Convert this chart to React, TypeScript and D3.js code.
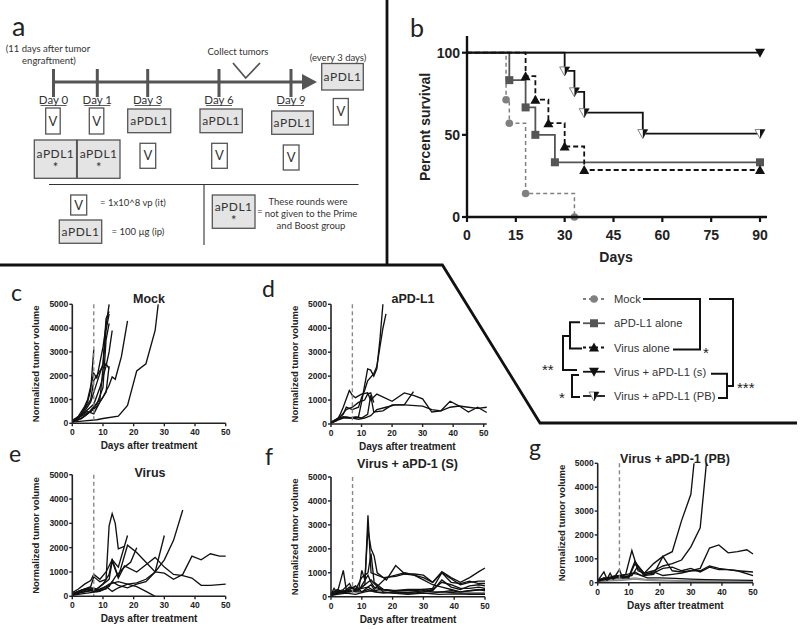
import React from 'react';
import * as d3 from 'd3';

// ---- Panel b: Kaplan-Meier survival (day, percent) ----
const mockSurv = [[0, 100], [12, 71.4], [13, 57.1], [18, 14.3], [33, 0]];
const aPDL1Surv = [[0, 100], [13, 83.3], [18, 66.7], [21, 50], [27, 33.3], [90, 33.3]];
const virusSurv = [[0, 100], [18, 85.7], [21, 71.4], [25, 57.1], [30, 42.9], [36, 28.6], [90, 28.6]];
const comboSSurv = [[0, 100], [90, 100]];
const comboPBSurv = [[0, 100], [30, 88.9], [33, 76.2], [36, 63.5], [54, 50.8], [90, 50.8]];
const survXTicks = [0, 15, 30, 45, 60, 75, 90];
const survYTicks = [0, 50, 100];

const legendLabels = ['Mock', 'aPD-L1 alone', 'Virus alone', 'Virus + aPD-L1 (s)', 'Virus + aPD-L1 (PB)'];

// ---- Panels c-g: tumour growth curves (day, normalized volume) ----
const mockCurves = [
  [[0, 80], [1, 150], [3, 400], [5, 900], [6, 1400], [7, 3100]],
  [[0, 100], [2, 300], [4, 700], [5, 1000], [7, 2100], [8, 1900], [10, 3200], [12, 5000]],
  [[0, 50], [2, 200], [4, 500], [6, 900], [8, 1700], [10, 2500], [11, 4400], [12, 4700]],
  [[0, 100], [2, 250], [4, 450], [7, 800], [9, 1500], [11, 2400], [12, 3000], [13, 3900]],
  [[0, 60], [3, 200], [5, 400], [7, 700], [9, 1000], [10, 2300], [11, 2500], [12, 2300]],
  [[0, 100], [3, 300], [6, 500], [8, 700], [10, 1100], [12, 1600], [13, 1950], [14, 1850], [16, 2800], [18, 4300]],
  [[0, 50], [4, 100], [8, 150], [10, 200], [15, 300], [18, 750], [21, 2200], [24, 2500], [27, 3900], [28, 5000]],
  [[0, 80], [2, 200], [4, 600], [6, 1000], [7, 1800], [8, 2000], [10, 2400], [11, 3900], [12, 4600]],
  [[0, 120], [3, 350], [5, 500], [7, 400], [9, 900], [11, 1300], [12, 2400]],
  [[0, 70], [2, 150], [4, 300], [6, 500], [8, 800], [10, 1500], [11, 3500], [12, 4200]],
];

const aPDL1Curves = [
  [[0, 50], [1, 100], [2, 200], [3, 250], [5, 300], [7, 250], [9, 300], [10, 900], [12, 2300], [13, 2250], [14, 2000], [15, 2300], [16, 3500], [17, 5000]],
  [[0, 80], [2, 200], [4, 400], [5, 700], [7, 600], [9, 700], [10, 1100], [11, 1400], [12, 1800], [14, 2100], [15, 2400], [17, 4000], [18, 4600]],
  [[0, 60], [2, 150], [3, 400], [4, 700], [6, 1400], [7, 1200], [8, 1100], [10, 1250], [12, 1300], [13, 1000], [15, 1250], [20, 950], [24, 1300], [27, 1200], [30, 1050], [33, 500], [36, 550], [39, 950], [42, 750], [45, 500], [48, 700], [51, 480]],
  [[0, 50], [2, 200], [4, 300], [6, 250], [8, 300], [10, 250], [12, 400], [13, 1200], [14, 500], [17, 550], [20, 800], [24, 800], [27, 1350]],
  [[0, 40], [2, 150], [4, 250], [7, 250], [9, 200], [11, 250], [13, 350], [15, 600], [18, 700], [21, 800], [24, 800], [30, 750], [33, 600], [36, 550], [39, 700], [42, 750], [45, 700], [48, 650], [51, 700]],
  [[0, 70], [3, 300], [5, 600], [7, 700], [9, 900], [11, 1000], [12, 1250], [13, 1300], [14, 900]],
];

const virusCurves = [
  [[0, 100], [2, 200], [4, 300], [6, 400], [7, 800], [9, 600], [11, 700], [12, 2900], [13, 3400], [14, 3000], [15, 1950], [17, 2050]],
  [[0, 150], [2, 300], [4, 500], [6, 650], [7, 900], [9, 700], [11, 1000], [13, 1500], [15, 800], [18, 2100], [21, 1800], [24, 1400], [27, 1000], [30, 950], [33, 700], [36, 900], [39, 1650], [42, 1500], [45, 1750], [48, 1650], [50, 1650]],
  [[0, 80], [2, 200], [4, 300], [6, 350], [8, 300], [10, 500], [12, 700], [13, 1450], [15, 750], [17, 1250], [21, 1000], [24, 1300], [27, 1600], [30, 1200], [33, 900], [36, 850], [39, 750], [42, 450], [45, 450], [50, 500]],
  [[0, 60], [3, 150], [6, 250], [8, 200], [11, 300], [13, 600], [15, 450], [18, 350], [21, 500], [24, 600], [27, 1000], [30, 1500], [33, 2300], [36, 3550]],
  [[0, 100], [3, 250], [5, 300], [7, 200], [10, 500], [12, 900], [13, 1500], [15, 1200], [18, 2500]],
  [[0, 50], [2, 150], [5, 200], [8, 250], [11, 400], [13, 200], [15, 350], [18, 500], [21, 550], [24, 700], [27, 1000], [30, 2500]],
  [[0, 70], [3, 200], [6, 300], [9, 250], [12, 500], [15, 600], [18, 500], [21, 400], [24, 200], [27, 0]],
  [[0, 40], [3, 100], [6, 150], [9, 200], [12, 400], [14, 800], [17, 1200], [19, 1400], [21, 2000]],
];

const comboSCurves = [
  [[0, 100], [1, 350], [2, 150], [4, 1100], [5, 250], [7, 400], [9, 300], [11, 500], [12, 3400], [13, 1000], [14, 950], [17, 800], [21, 850], [24, 950], [27, 900], [30, 800], [33, 600], [36, 1050], [39, 800], [42, 600], [45, 800], [48, 1050], [50, 1200]],
  [[0, 80], [2, 200], [4, 300], [6, 550], [7, 300], [9, 300], [10, 1100], [11, 700], [12, 2800], [13, 2000], [14, 1700], [15, 1000], [18, 700], [21, 1300], [24, 950], [27, 950], [30, 900], [33, 600], [36, 1000], [39, 750], [42, 500], [45, 600], [48, 650], [50, 650]],
  [[0, 150], [2, 250], [4, 200], [6, 400], [8, 300], [10, 800], [12, 1000], [13, 1800], [14, 600], [17, 300], [21, 250], [24, 250], [27, 250], [30, 300], [33, 250], [36, 700], [39, 400], [42, 300], [45, 450], [48, 500], [50, 450]],
  [[0, 100], [2, 150], [4, 250], [6, 200], [8, 250], [10, 400], [12, 600], [13, 700], [14, 550], [17, 200], [21, 150], [27, 150], [30, 200], [33, 300], [36, 600], [39, 500], [42, 350], [45, 350], [48, 400], [50, 350]],
  [[0, 50], [2, 200], [4, 150], [6, 250], [8, 200], [10, 200], [12, 300], [14, 200], [17, 150], [21, 200], [24, 150], [27, 200], [30, 250], [33, 200], [36, 200], [39, 250], [42, 200], [45, 250], [48, 300], [50, 250]],
  [[0, 80], [3, 150], [6, 200], [9, 250], [12, 900], [13, 600], [14, 400], [17, 300], [21, 200], [27, 150], [30, 150], [33, 150], [36, 200], [42, 150], [50, 150]],
  [[0, 100], [3, 200], [7, 250], [10, 350], [12, 400], [13, 500], [14, 300], [18, 800], [21, 900], [24, 1000], [27, 900], [30, 700], [33, 500], [36, 400], [39, 300], [42, 200], [45, 250], [50, 300]],
  [[0, 50], [2, 100], [5, 150], [8, 100], [11, 200], [13, 250], [15, 200], [20, 150], [25, 100], [30, 150], [35, 100], [40, 120], [45, 100], [50, 100]],
  [[0, 120], [2, 300], [4, 200], [6, 300], [8, 450], [10, 200], [12, 400], [14, 250], [16, 300], [20, 250], [25, 300], [30, 300], [33, 350], [36, 1000], [39, 600], [42, 550], [45, 650], [48, 550], [50, 550]],
];

const comboPBCurves = [
  [[0, 100], [2, 200], [3, 100], [5, 250], [7, 300], [9, 350], [11, 1350], [13, 500], [15, 400], [18, 800], [21, 1100], [24, 1300], [27, 2600], [30, 3700], [31, 5000]],
  [[0, 80], [2, 450], [3, 150], [4, 400], [5, 150], [7, 550], [8, 200], [10, 250], [12, 900], [13, 700], [15, 400], [18, 500], [21, 700], [24, 800], [27, 950], [30, 1500], [33, 2300], [35, 5000]],
  [[0, 100], [2, 150], [4, 200], [7, 250], [10, 200], [12, 800], [13, 600], [15, 300], [18, 350], [21, 1100], [24, 500], [27, 450], [30, 500], [33, 600], [36, 1450], [39, 1580], [42, 1250], [45, 1300], [48, 1380], [50, 1200]],
  [[0, 120], [3, 200], [6, 300], [8, 250], [11, 300], [13, 700], [15, 350], [18, 400], [21, 600], [24, 650], [27, 500], [30, 600], [33, 450], [36, 650], [39, 550], [42, 550], [45, 500], [50, 450]],
  [[0, 60], [3, 150], [6, 200], [9, 200], [12, 450], [14, 300], [18, 450], [21, 300], [24, 350], [27, 400], [30, 500], [33, 500], [36, 700], [39, 600], [42, 550], [45, 500], [50, 300]],
  [[0, 90], [2, 200], [5, 180], [8, 300], [11, 400], [13, 350], [16, 200], [20, 200], [25, 180], [30, 150], [35, 130], [40, 120], [50, 100]],
];
const comboPBLowCurves = [
  [[0, 50], [3, 100], [6, 150], [9, 150], [12, 200], [15, 150], [20, 120], [25, 100], [30, 100], [35, 80], [40, 80], [45, 70], [50, 60]],
  [[0, 40], [4, 80], [8, 100], [12, 150], [16, 100], [20, 80], [30, 50], [40, 40], [50, 30]],
];

const tumorXTicks = [0, 10, 20, 30, 40, 50];
const tumorYTicks = [0, 1000, 2000, 3000, 4000, 5000];
const treatmentDay = 7;

const scheduleDays = ['Day 0', 'Day 1', 'Day 3', 'Day 6', 'Day 9'];

const ARIAL = '"Liberation Sans", Arial, sans-serif';
const CAL = 'Lato, "Open Sans", sans-serif';

type Pt = number[];

function TumorPanel({ x0, x1, yTop, yBot, curves, grayCurves = [], title, titleX, titleY, xMax = 50, letter, letterX, letterY }: any) {
  const x = d3.scaleLinear().domain([0, 50]).range([x0, x1]);
  const y = d3.scaleLinear().domain([0, 5000]).range([yBot, yTop]);
  const line = d3.line<Pt>().x(d => x(d[0])).y(d => y(d[1]));
  return (
    <g>
      <text x={letterX} y={letterY} fontFamily={CAL} fontSize={23} fill="#222">{letter}</text>
      <text x={titleX} y={titleY} textAnchor="middle" fontFamily={ARIAL} fontWeight="bold" fontSize={12.5} fill="#222">{title}</text>
      {grayCurves.map((c: Pt[], i: number) => (
        <path key={'g' + i} d={line(c) || ''} fill="none" stroke="#8a8a8a" strokeWidth={1.3} />
      ))}
      {curves.map((c: Pt[], i: number) => (
        <path key={i} d={line(c) || ''} fill="none" stroke="#111" strokeWidth={1.35} />
      ))}
      <line x1={x(treatmentDay)} x2={x(treatmentDay)} y1={y(5000)} y2={y(0)} stroke="#888" strokeWidth={1.4} strokeDasharray="4,3" />
      <line x1={x0} x2={x0} y1={y(5000)} y2={yBot} stroke="#222" strokeWidth={1.6} />
      <line x1={x0} x2={x(xMax)} y1={yBot} y2={yBot} stroke="#222" strokeWidth={1.6} />
      {tumorYTicks.map(t => (
        <g key={'y' + t}>
          <line x1={x0 - 3} x2={x0} y1={y(t)} y2={y(t)} stroke="#222" strokeWidth={1.4} />
          <text x={x0 - 4} y={y(t) + 3} textAnchor="end" fontFamily={ARIAL} fontWeight="bold" fontSize={8.5} fill="#222">{t}</text>
        </g>
      ))}
      {tumorXTicks.map(t => (
        <g key={'x' + t}>
          <line x1={x(t)} x2={x(t)} y1={yBot} y2={yBot + 3} stroke="#222" strokeWidth={1.4} />
          <text x={x(t)} y={yBot + 12} textAnchor="middle" fontFamily={ARIAL} fontWeight="bold" fontSize={8.5} fill="#222">{t}</text>
        </g>
      ))}
      <text transform={`translate(${x0 - 33},${(yTop + yBot) / 2}) rotate(-90)`} textAnchor="middle" fontFamily={ARIAL} fontWeight="bold" fontSize={9.5} fill="#222">Normalized tumor volume</text>
      <text x={(x0 + x1) / 2} y={yBot + 26} textAnchor="middle" fontFamily={ARIAL} fontWeight="bold" fontSize={10} fill="#222">Days after treatment</text>
    </g>
  );
}

function Marker({ kind, cx, cy, color }: { kind: string; cx: number; cy: number; color: string }) {
  if (kind === 'circle') return <circle cx={cx} cy={cy} r={3.8} fill={color} />;
  if (kind === 'square') return <rect x={cx - 4} y={cy - 4} width={8} height={8} fill={color} />;
  if (kind === 'up') return <path d={`M${cx},${cy - 5} L${cx + 5},${cy + 4} L${cx - 5},${cy + 4} Z`} fill={color} />;
  if (kind === 'down') return <path d={`M${cx - 5},${cy - 4} L${cx + 5},${cy - 4} L${cx},${cy + 5} Z`} fill={color} />;
  return (
    <g>
      <path d={`M${cx - 5},${cy - 4} L${cx + 5},${cy - 4} L${cx},${cy + 5} Z`} fill="#fff" stroke="#777" strokeWidth={0.9} />
      <path d={`M${cx},${cy - 4} L${cx + 5},${cy - 4} L${cx},${cy + 5} Z`} fill="#111" />
    </g>
  );
}

function SurvivalPanel() {
  const x = d3.scaleLinear().domain([0, 90]).range([467, 760]);
  const y = d3.scaleLinear().domain([0, 100]).range([217, 52.7]);
  const series = [
    { d: mockSurv, color: '#808080', dash: '4,3', kind: 'circle', w: 1.5 },
    { d: aPDL1Surv, color: '#555', dash: '', kind: 'square', w: 1.8 },
    { d: virusSurv, color: '#111', dash: '5,3', kind: 'up', w: 1.8 },
    { d: comboSSurv, color: '#111', dash: '', kind: 'down', w: 1.8 },
    { d: comboPBSurv, color: '#111', dash: '', kind: 'pb', w: 1.8 },
  ];
  const step = d3.line<Pt>().x(d => x(d[0])).y(d => y(d[1])).curve(d3.curveStepAfter);
  return (
    <g>
      <text x={410} y={37} fontFamily={CAL} fontSize={25} fill="#222">b</text>
      {series.map((s, i) => (
        <path key={i} d={step(s.d as Pt[]) || ''} fill="none" stroke={s.color} strokeWidth={s.w} strokeDasharray={s.dash} />
      ))}
      {series.map((s, i) => (
        <g key={'m' + i}>
          {(s.d as Pt[]).slice(1).map((p, j) => (
            <Marker key={j} kind={s.kind} cx={x(p[0])} cy={y(p[1])} color={s.color} />
          ))}
        </g>
      ))}
      <line x1={467} x2={467} y1={36} y2={218} stroke="#111" strokeWidth={2.4} />
      <line x1={466} x2={767} y1={217} y2={217} stroke="#111" strokeWidth={2.4} />
      {survYTicks.map(t => (
        <g key={'y' + t}>
          <line x1={462} x2={467} y1={y(t)} y2={y(t)} stroke="#111" strokeWidth={2.2} />
          <text x={460} y={y(t) + 5} textAnchor="end" fontFamily={ARIAL} fontWeight="bold" fontSize={14} fill="#222">{t}</text>
        </g>
      ))}
      {survXTicks.map(t => (
        <g key={'x' + t}>
          <line x1={x(t)} x2={x(t)} y1={217} y2={222} stroke="#111" strokeWidth={2.2} />
          <text x={x(t)} y={240} textAnchor="middle" fontFamily={ARIAL} fontWeight="bold" fontSize={14} fill="#222">{t}</text>
        </g>
      ))}
      <text transform="translate(430,127) rotate(-90)" textAnchor="middle" fontFamily={ARIAL} fontWeight="bold" fontSize={14} fill="#222">Percent survival</text>
      <text x={616} y={262} textAnchor="middle" fontFamily={ARIAL} fontWeight="bold" fontSize={14} fill="#222">Days</text>
    </g>
  );
}

function Legend() {
  const rowY = d3.scalePoint().domain(legendLabels).range([299, 396]);
  const styles = [
    { color: '#808080', dash: '3,3', kind: 'circle' },
    { color: '#555', dash: '', kind: 'square' },
    { color: '#111', dash: '3,3', kind: 'up' },
    { color: '#111', dash: '', kind: 'down' },
    { color: '#111', dash: '', kind: 'pb' },
  ];
  const yy = (i: number) => rowY(legendLabels[i]) as number;
  return (
    <g>
      {legendLabels.map((l, i) => (
        <g key={l}>
          <line x1={583} x2={605} y1={yy(i)} y2={yy(i)} stroke={styles[i].color} strokeWidth={1.8} strokeDasharray={styles[i].dash} />
          <Marker kind={styles[i].kind} cx={594} cy={yy(i)} color={styles[i].color} />
          <text x={614} y={yy(i) + 4} fontFamily={ARIAL} fontSize={11.2} fill="#333">{l}</text>
        </g>
      ))}
      <g fill="none" stroke="#111" strokeWidth={2}>
        <path d={`M643,${yy(0)} H700 V${yy(2) + 2} H673`} />
        <path d={`M709,${yy(0)} H733 V386 H727`} />
        <path d={`M711,${yy(3) + 2} H727 V${yy(4) + 2} H718`} />
        <path d={`M580,${yy(1) - 1} H570 V${yy(2) + 1} H582`} />
        <path d={`M570,336 H563 V370 H577`} />
        <path d={`M579,375 H572 V${yy(4) + 1} H580`} />
      </g>
      <g fontFamily={ARIAL} fontSize={15} fill="#222">
        <text x={703} y={358}>*</text>
        <text x={737} y={393}>***</text>
        <text x={542} y={375}>**</text>
        <text x={559} y={403}>*</text>
      </g>
    </g>
  );
}

function Box({ x, y, w, h, label, star = false, gray = true }: any) {
  return (
    <g>
      <rect x={x} y={y} width={w} height={h} fill={gray ? '#e4e4e4' : '#fff'} stroke="#555" strokeWidth={1.3} />
      <text x={x + w / 2} y={star ? y + h / 2 - 1 : y + h / 2 + 4.5} textAnchor="middle" fontFamily={CAL} fontSize={gray ? 12 : 13} letterSpacing={gray ? 0.5 : 0} fill="#333">{label}</text>
      {star && <text x={x + w / 2} y={y + h / 2 + 13} textAnchor="middle" fontFamily={CAL} fontSize={13} fill="#333">*</text>}
    </g>
  );
}

function SchedulePanel() {
  const dayX = d3.scaleOrdinal<string, number>().domain(scheduleDays).range([53.5, 97.3, 147.7, 219, 291]);
  return (
    <g>
      <text x={12} y={36} fontFamily={CAL} fontSize={27} fill="#222">a</text>
      <g fontFamily={CAL} fontSize={9.5} fill="#333" textAnchor="middle">
        <text x={48} y={52}>(11 days after tumor</text>
        <text x={49} y={64}>engraftment)</text>
        <text x={238} y={55}>Collect tumors</text>
        <text x={338} y={61}>(every 3 days)</text>
      </g>
      <path d="M233,63 L245.7,78 L260,63" fill="none" stroke="#555" strokeWidth={1.8} />
      <line x1={53} x2={304} y1={82} y2={82} stroke="#555" strokeWidth={3} />
      <path d="M302,74 L317,82 L302,90 Z" fill="#555" />
      {scheduleDays.map(d => (
        <g key={d}>
          <line x1={dayX(d)} x2={dayX(d)} y1={69} y2={97} stroke="#555" strokeWidth={3} />
          <text x={dayX(d)} y={103.5} textAnchor="middle" fontFamily={CAL} fontSize={11.5} fill="#333">{d}</text>
          <line x1={dayX(d) - 13} x2={dayX(d) + 13} y1={105.5} y2={105.5} stroke="#333" strokeWidth={0.8} />
        </g>
      ))}
      <Box x={45.7} y={108} w={14.5} h={26} label="V" gray={false} />
      <Box x={89.3} y={108} w={14.5} h={26} label="V" gray={false} />
      <Box x={127.7} y={109} w={43} h={23.7} label="aPDL1" />
      <Box x={200} y={109} w={42.3} h={23.7} label="aPDL1" />
      <Box x={271.7} y={111} w={41.6} h={23.3} label="aPDL1" />
      <Box x={321.7} y={63.5} w={41.6} h={26.5} label="aPDL1" />
      <Box x={333.3} y={98.5} w={15} h={26.5} label="V" gray={false} />
      <Box x={34.3} y={140} w={42.3} h={38.3} label="aPDL1" star />
      <Box x={77.3} y={140} w={42.7} h={38.3} label="aPDL1" star />
      <Box x={140} y={143.3} w={15.7} h={25} label="V" gray={false} />
      <Box x={211.7} y={143.3} w={15.6} h={25} label="V" gray={false} />
      <Box x={283.3} y={145} w={15.7} h={25} label="V" gray={false} />
      <line x1={49} x2={358.5} y1={184.5} y2={184.5} stroke="#333" strokeWidth={1.1} />
      <line x1={204} x2={204} y1={184.5} y2={245} stroke="#333" strokeWidth={1.1} />
      <Box x={70.7} y={195} w={16} h={20} label="V" gray={false} />
      <Box x={59.3} y={220} w={42.4} h={23.3} label="aPDL1" />
      <Box x={212.3} y={195} w={42.7} h={33.3} label="aPDL1" star />
      <g fontFamily={CAL} fontSize={9.5} fill="#333">
        <text x={100} y={206}>= 1x10^8 vp (it)</text>
        <text x={111.5} y={235}>= 100 µg (ip)</text>
        <text x={257} y={215}>=</text>
        <text x={308} y={205} textAnchor="middle">These rounds were</text>
        <text x={311} y={217} textAnchor="middle">not given to the Prime</text>
        <text x={311} y={229} textAnchor="middle">and Boost group</text>
      </g>
    </g>
  );
}

export default function App() {
  return (
    <svg width={800} height={629} viewBox="0 0 800 629" style={{ position: 'absolute', left: 0, top: 0, background: '#fff' }}>
      <rect x={0} y={0} width={800} height={629} fill="#fff" />
      <SchedulePanel />
      <SurvivalPanel />
      <Legend />
      <g fill="none" stroke="#111" strokeWidth={2.8}>
        <line x1={387} x2={387} y1={0} y2={266} />
        <path d="M0,265 H442.4 L540,423 H797" />
      </g>
      <TumorPanel x0={72.3} x1={225.7} yTop={304.3} yBot={423.3} curves={mockCurves} title="Mock" titleX={149} titleY={303} letter="c" letterX={11} letterY={301} />
      <TumorPanel x0={331} x1={483.7} yTop={304.3} yBot={424} curves={aPDL1Curves} title="aPD-L1" titleX={413} titleY={302.7} xMax={51} letter="d" letterX={262} letterY={297} />
      <TumorPanel x0={72.3} x1={225.7} yTop={474.7} yBot={596.3} curves={virusCurves} title="Virus" titleX={150} titleY={476.7} letter="e" letterX={9} letterY={462} />
      <TumorPanel x0={331} x1={485} yTop={477} yBot={596.7} curves={comboSCurves} title="Virus + aPD-1 (S)" titleX={407.5} titleY={468} letter="f" letterX={265} letterY={465} />
      <TumorPanel x0={597.7} x1={753} yTop={463.3} yBot={582.7} curves={comboPBCurves} grayCurves={comboPBLowCurves} title="Virus + aPD-1 (PB)" titleX={675} titleY={462.7} letter="g" letterX={529} letterY={456} />
    </svg>
  );
}
